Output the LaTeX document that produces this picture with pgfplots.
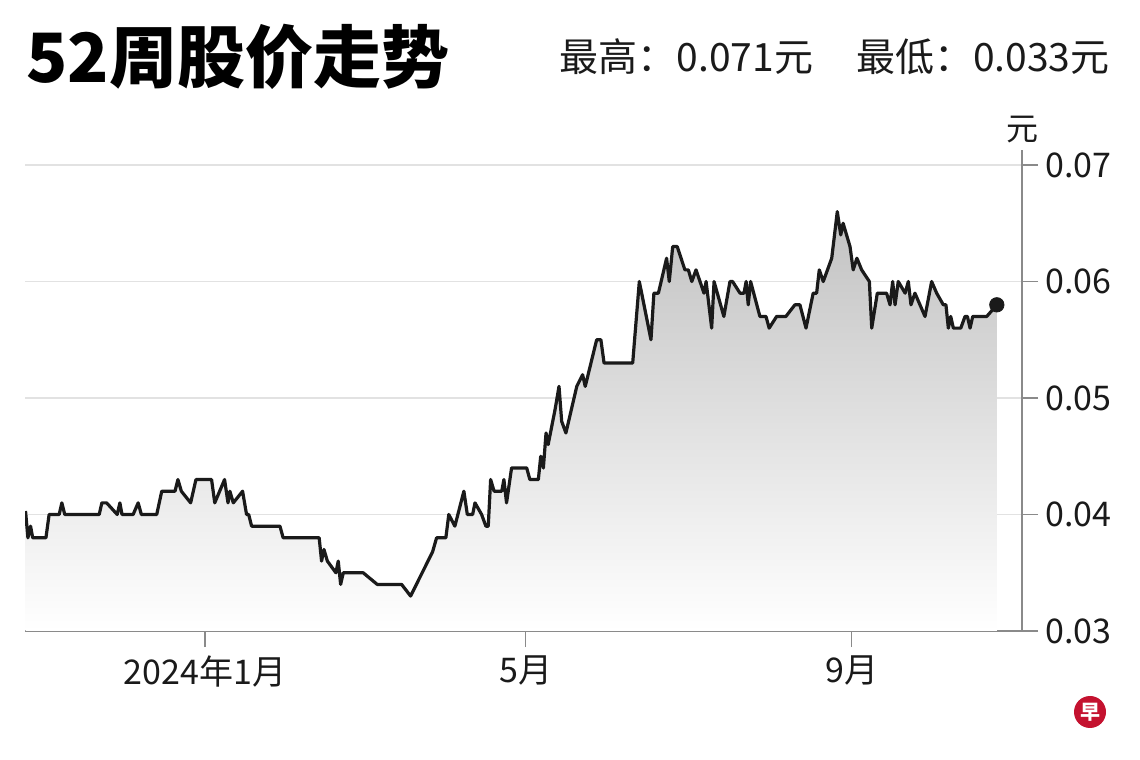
\documentclass[border=0pt]{standalone}
\usepackage{pgfplots}
\pgfplotsset{compat=1.18}
\usepackage{pgfplotstable}
\usepackage{fontspec}
\setmainfont{Noto Sans CJK SC}
\definecolor{gridc}{HTML}{E2E2E2}
\definecolor{axc}{HTML}{8A8A8A}
\definecolor{zbred}{HTML}{C4122F}
\definecolor{txt}{HTML}{1A1A1A}

\pgfplotstableread{
x y
-67.7 0.0403
-66.8 0.038
-65.8 0.039
-65.0 0.038
-60.0 0.038
-58.8 0.040
-55.0 0.040
-54.0 0.041
-52.9 0.040
-39.9 0.040
-38.9 0.041
-37.1 0.041
-33.1 0.040
-32.1 0.041
-31.3 0.040
-27.1 0.040
-25.2 0.041
-24.0 0.040
-18.2 0.040
-16.3 0.042
-11.3 0.042
-10.2 0.043
-8.9 0.042
-5.4 0.041
-3.4 0.043
2.5 0.043
3.7 0.041
7.4 0.043
8.7 0.041
9.4 0.042
10.7 0.041
14.2 0.042
15.7 0.040
16.5 0.040
17.6 0.039
28.3 0.039
29.5 0.038
43.1 0.038
44.0 0.036
44.9 0.037
46.2 0.036
49.4 0.035
50.3 0.036
51.2 0.034
52.2 0.035
59.7 0.035
65.0 0.034
74.2 0.034
77.6 0.033
85.9 0.0368
87.4 0.038
90.9 0.038
92.0 0.040
94.3 0.039
97.7 0.042
99.0 0.040
101.0 0.040
101.9 0.041
104.4 0.040
106.0 0.039
106.9 0.039
107.8 0.043
109.1 0.042
112.0 0.042
112.8 0.043
113.8 0.041
115.7 0.044
121.4 0.044
122.6 0.043
125.8 0.043
126.7 0.045
127.7 0.044
128.7 0.047
129.5 0.046
132.1 0.049
133.6 0.051
134.6 0.048
136.2 0.047
140.3 0.051
142.5 0.052
143.5 0.051
147.8 0.055
149.4 0.055
150.6 0.053
161.4 0.053
163.9 0.060
168.3 0.055
169.4 0.059
171.1 0.059
174.2 0.062
175.2 0.060
176.5 0.063
178.2 0.063
181.1 0.061
182.4 0.061
183.7 0.060
185.3 0.061
188.3 0.059
189.1 0.060
191.2 0.056
192.1 0.060
195.8 0.057
198.1 0.060
199.1 0.060
201.9 0.059
203.4 0.059
204.2 0.060
205.0 0.058
205.9 0.060
209.4 0.057
211.7 0.057
212.9 0.056
215.7 0.057
219.2 0.057
222.6 0.058
224.5 0.058
226.8 0.056
229.5 0.059
230.8 0.059
231.8 0.061
233.3 0.060
236.5 0.062
238.6 0.066
239.9 0.064
240.8 0.065
243.4 0.063
244.6 0.061
246.0 0.062
247.8 0.061
250.7 0.060
251.6 0.056
253.7 0.059
257.2 0.059
258.5 0.058
259.5 0.060
260.4 0.058
261.6 0.060
264.2 0.059
265.4 0.060
266.4 0.058
267.9 0.059
271.7 0.057
274.2 0.060
276.1 0.059
278.6 0.058
279.6 0.058
280.5 0.056
281.4 0.057
282.4 0.056
285.2 0.056
286.8 0.057
287.7 0.057
288.7 0.056
289.7 0.057
295.0 0.057
298.8 0.058
}\pricedata

\pgfplotstableread{
x y
298.8 0.058
}\lastpoint

\begin{document}
\begin{tikzpicture}
\path (0,0) rectangle (570pt,380pt);
\begin{axis}[
  at={(12.5pt,64.5pt)}, anchor=south west,
  scale only axis, width=498.5pt, height=240.5pt,
  xmin=-67.9, xmax=308.3, ymin=0.03, ymax=0.07129,
  axis x line*=bottom, axis y line*=right,
  axis line style={axc, line width=0.75pt, -},
  xtick={0,121,244}, xticklabels={2024年1月,5月,9月},
  ytick={0.03,0.04,0.05,0.06,0.07},
  yticklabels={0.03,0.04,0.05,0.06,0.07},
  scaled y ticks=false, scaled x ticks=false,
  tick align=outside, major tick length=8pt,
  tick style={axc, line width=0.75pt},
  ymajorgrids, grid style={gridc, line width=0.75pt},
  ticklabel style={font=\fontsize{17pt}{19pt}\selectfont, text=txt},
  yticklabel style={inner sep=0pt, xshift=3.5pt},
  xticklabel style={inner sep=0pt, yshift=-4pt},
]
\addplot[draw=none, top color=black!24, bottom color=white]
  table[x=x, y=y] {\pricedata} -- (axis cs:298.8,0.03) -- (axis cs:-67.7,0.03) -- cycle;
\addplot[txt, line width=1.6pt, line join=round] table[x=x, y=y] {\pricedata};
\addplot[only marks, mark=*, mark size=3.6pt, txt, clip mode=individual] table[x=x, y=y] {\lastpoint};
\end{axis}
\node[anchor=center, inner sep=0pt, text=txt, font=\fontsize{16pt}{18pt}\selectfont] at (511pt,315pt) {元};
\node[anchor=west, inner sep=0pt, text=black, font=\fontsize{34pt}{38pt}\selectfont\bfseries] at (13pt,351.5pt) {52周股价走势};
\node[anchor=east, inner sep=0pt, text=txt, font=\fontsize{19.5pt}{22pt}\selectfont] at (555pt,351.5pt) {最高：0.071元\hspace{1.1em}最低：0.033元};
\fill[zbred] (545pt,24pt) circle (8pt);
\node[text=white, inner sep=0pt, font=\fontsize{10pt}{10pt}\selectfont\bfseries] at (545pt,24pt) {早};
\end{tikzpicture}
\end{document}
